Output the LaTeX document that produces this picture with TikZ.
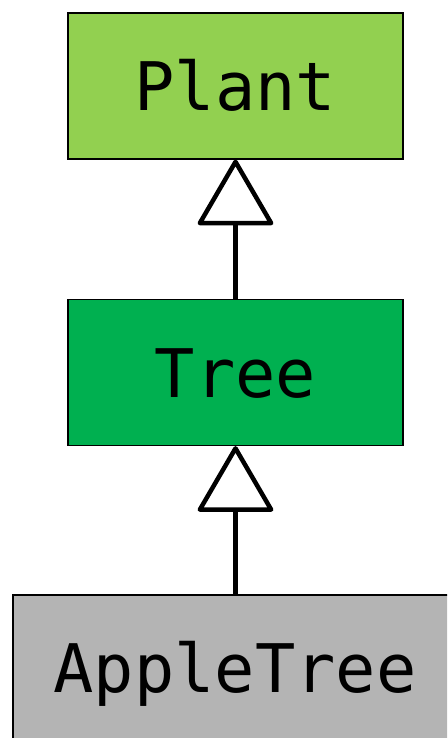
\documentclass[tikz,border=0pt]{standalone}
\usepackage{fontspec}
\setmonofont{DejaVu Sans Mono}
\usepackage{xcolor}
\usetikzlibrary{arrows.meta}

\definecolor{plantgreen}{HTML}{92D050}
\definecolor{treegreen}{HTML}{00B050}
\definecolor{applegray}{HTML}{B4B4B4}

\tikzset{
  classbox/.style={draw=black, line width=1.2pt, minimum width=335pt, minimum height=146pt,
    font=\fontsize{67}{67}\ttfamily, text height=49pt, text depth=0pt, inner sep=0pt},
  inherit/.style={line width=4.5pt, -{Triangle[open, length=68pt, width=78pt, round]}}
}

\begin{document}
\begin{tikzpicture}[x=1pt,y=1pt]

% Page frame
\useasboundingbox (0,0) rectangle (447,-738);

% Class boxes
\begin{scope}
\clip (0,0) rectangle (447,-738);
\node[classbox, fill=applegray, minimum width=444pt] (AppleTree) at (235,-668) {AppleTree}; % Subclass
\end{scope}
\node[classbox, fill=treegreen] (Tree) at (235.5,-372.5) {Tree};   % Middle class
\node[classbox, fill=plantgreen] (Plant) at (235.5,-86) {Plant};  % Base class

% Inheritance arrows
\draw[inherit] (AppleTree.north -| Tree.south) -- (Tree.south);  % AppleTree to Tree
\draw[inherit] (Tree.north) -- (Plant.south);                     % Tree to Plant

\end{tikzpicture}
\end{document}
